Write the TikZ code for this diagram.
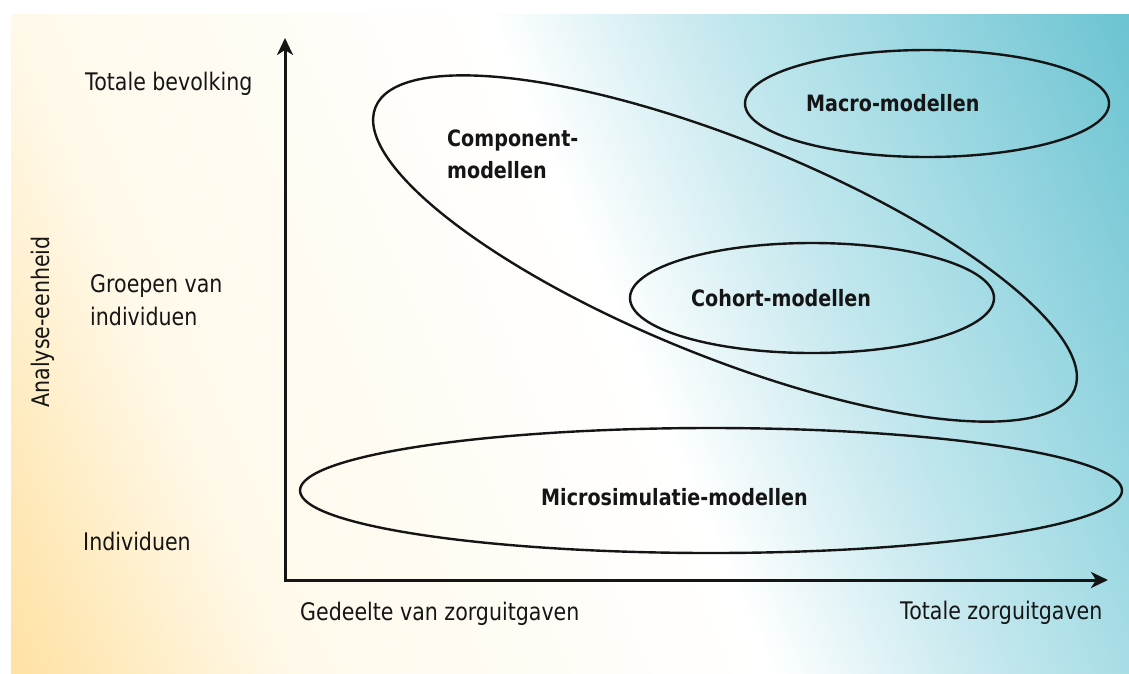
\documentclass[tikz,border=0pt]{standalone}
\usepackage{fontspec}
\setmainfont{DejaVu Sans}[FakeStretch=0.85]
\usetikzlibrary{arrows.meta}
\definecolor{g0}{HTML}{FFE0A0}
\definecolor{g1}{HTML}{FFEDC6}
\definecolor{g2}{HTML}{FFF9EA}
\definecolor{g3}{HTML}{FFFFFF}
\definecolor{g4}{HTML}{C8E9EF}
\definecolor{g5}{HTML}{A8DDE6}
\definecolor{g6}{HTML}{6DC4D2}
\definecolor{g7}{HTML}{6BC3D1}
\definecolor{ink}{HTML}{151515}
\pgfdeclarehorizontalshading{bgshade}{1100bp}{color(0bp)=(g0); color(137bp)=(g1); color(265bp)=(g2); color(703bp)=(g3); color(892bp)=(g4); color(1030bp)=(g5); color(1284bp)=(g6); color(1300bp)=(g7)}
\begin{document}
\begin{tikzpicture}[x=1pt,y=-1pt,
  lab/.style={inner sep=0pt, text=ink, font=\fontsize{24.2}{33}\selectfont},
  blab/.style={inner sep=0pt, text=ink, font=\fontsize{22.5}{32}\selectfont\bfseries},
  axisline/.style={line width=3pt, draw=ink,
     {Stealth[length=17pt,width=16pt,inset=5pt]}-{Stealth[length=17pt,width=16pt,inset=5pt]}},
  oval/.style={line width=2.4pt, draw=ink}]
\useasboundingbox (0,0) rectangle (1129,673);
\fill[white] (0,0) rectangle (1129,673);
\begin{scope}
  \clip (11,14) rectangle (1129,673);
  \node[inner sep=0pt, rotate=23.2] (bg) at (571.6,343.1) {\pgfuseshading{bgshade}};
\end{scope}
% ellipses
\draw[oval] (927,103.5) ellipse [x radius=182, y radius=53.5];
\draw[oval, rotate around={-22:(725,248.5)}] (725,248.5) ellipse [x radius=377, y radius=108];
\draw[oval] (812,298) ellipse [x radius=182, y radius=55];
\draw[oval] (711,490.5) ellipse [x radius=411, y radius=62.5];
% axes
\coordinate (O) at (285,580);
\coordinate (ytip) at (285,38);
\coordinate (xtip) at (1108,580);
\draw[axisline] (ytip) -- (O) -- (xtip);
% axis labels
\node[lab, anchor=base west] (tb) at (85,90) {Totale bevolking};
\node[lab, anchor=west, align=left] (gv) at (90,300.5) {Groepen van\\individuen};
\node[lab, anchor=base west] (ind) at (83,550) {Individuen};
\node[lab, rotate=90] (ae) at (43,322) {Analyse-eenheid};
\node[lab, anchor=base west] (gz) at (300,620) {Gedeelte van zorguitgaven};
\node[lab, anchor=base west] (tz) at (900,619) {Totale zorguitgaven};
% model labels
\node[blab, anchor=base west] (macro) at (806,111) {Macro-modellen};
\node[blab, anchor=west, align=left] (comp) at (447,154.8) {Component-\\modellen};
\node[blab, anchor=base west] (coh) at (691,306) {Cohort-modellen};
\node[blab, anchor=base west] (micro) at (541,505) {Microsimulatie-modellen};
\end{tikzpicture}
\end{document}
